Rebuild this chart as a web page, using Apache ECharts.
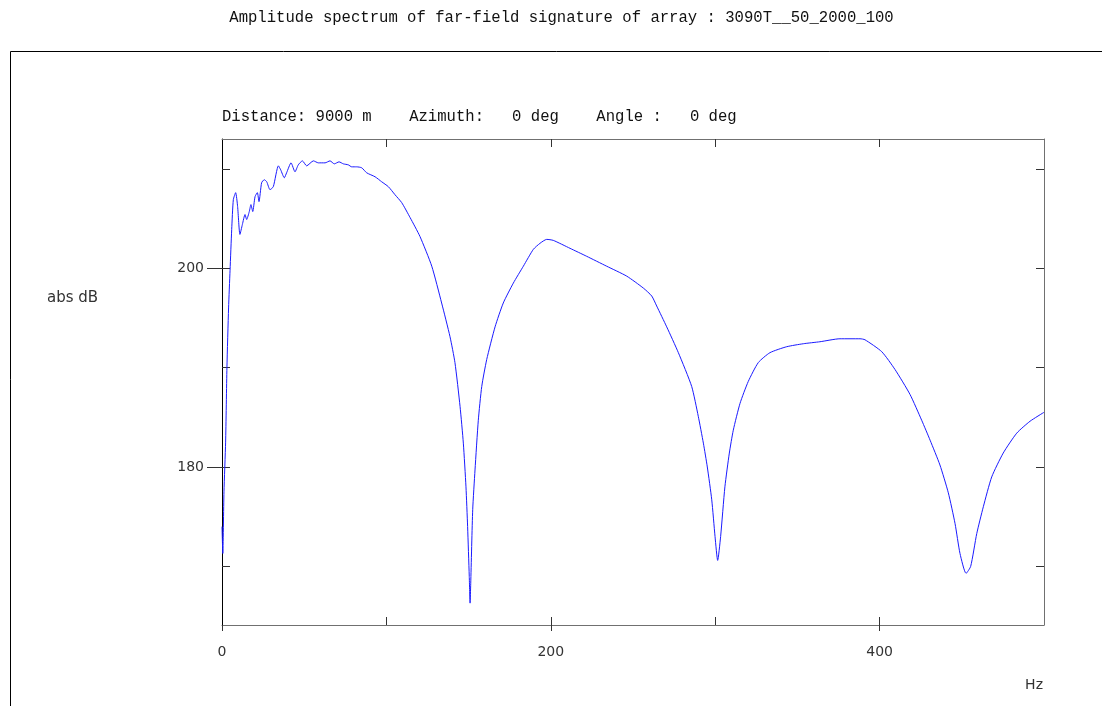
<!DOCTYPE html>
<html>
<head>
<meta charset="utf-8">
<script src="https://cdn.jsdelivr.net/npm/echarts@6/dist/echarts.min.js"></script>
<style>
  html, body { margin: 0; padding: 0; background: #ffffff; }
  #chart { width: 1102px; height: 706px; }
</style>
</head>
<body>
<div id="chart"></div>
<script>
// Far-field amplitude spectrum samples: frequency (Hz) and level (abs dB)
const freqHz = [
  0.0, 0.5, 1.2, 2.2, 3.0, 4.0, 4.9, 5.9, 6.9, 8.3, 9.5, 10.9, 12.4, 14.0, 15.0,
  16.6, 17.6, 18.7, 20.1, 21.5, 22.5, 24.1, 25.7, 27.2, 29.2, 31.2, 34.3, 35.7,
  37.9, 39.3, 42.0, 44.4, 46.4, 48.9, 51.5, 55.6, 58.6, 62.7, 65.7, 68.3, 71.2,
  73.8, 76.8, 78.9, 81.9, 85.0, 88.0, 93.1, 97.1, 101.2, 105.2, 109.3, 114.4,
  120.4, 127.6, 133.6, 138.7, 141.7, 144.8, 146.8, 148.4, 149.4, 150.4, 150.9,
  151.3, 152.5, 153.9, 155.9, 158.0, 161.0, 166.1, 171.1, 177.2, 183.3, 189.4,
  193.4, 197.5, 201.5, 211.7, 221.8, 234.0, 246.2, 256.3, 261.4, 264.4, 270.5,
  277.6, 285.7, 289.7, 292.8, 295.2, 297.9, 299.9, 301.5, 303.3, 305.9, 308.6,
  311.0, 315.1, 320.1, 326.2, 333.3, 343.5, 353.6, 363.7, 375.9, 388.1, 391.1,
  401.3, 409.4, 418.5, 425.6, 430.7, 436.7, 441.8, 445.9, 448.9, 452.6, 455.4,
  459.1, 463.1, 468.2, 475.2, 483.4, 491.5, 500.0
];
const ampDb = [
  174.0, 171.3, 177.5, 182.5, 190.0, 196.0, 199.8, 203.9, 206.9, 207.6, 206.2, 203.4, 204.4, 205.4, 204.9,
  205.7, 206.4, 205.7, 207.2, 207.6, 206.7, 208.6, 208.9, 208.7, 207.9, 208.2, 210.3, 209.9,
  209.1, 209.6, 210.6, 209.7, 210.4, 210.8, 210.3, 210.8, 210.6, 210.6, 210.8, 210.5, 210.7,
  210.5, 210.4, 210.2, 210.2, 210.1, 209.6, 209.2, 208.7, 208.2, 207.4, 206.6, 205.1,
  203.2, 200.2, 196.5, 193.1, 190.5, 186.1, 182.4, 178.0, 174.0, 169.0, 166.3,
  168.3, 175.7, 179.7, 184.7, 188.1, 190.8, 194.1, 196.5, 198.5, 200.2, 201.9,
  202.5, 202.9, 202.8, 202.0, 201.2, 200.2, 199.2, 198.0, 197.2, 196.2, 194.1,
  191.5, 188.1, 185.1, 182.4, 180.0, 176.7, 173.0, 170.6, 173.0, 178.0, 181.4,
  183.7, 186.4, 188.6, 190.5, 191.5, 192.1, 192.4, 192.6, 192.9, 192.9, 192.8,
  191.6, 189.8, 187.3, 184.7, 182.7, 180.2, 177.4, 174.3, 171.3, 169.3, 170.0,
  173.3, 176.0, 179.0, 181.4, 183.4, 184.6, 185.5
];

// Axis ranges and tick values
const xRange = [0, 500];
const yRange = [164.1, 213.0];
const xTicks = [100, 200, 300, 400];
const xLabels = [0, 200, 400];
const yTicks = [170, 180, 190, 200, 210];
const yLabels = [180, 200];

const titleText = 'Amplitude spectrum of far-field signature of array : 3090T__50_2000_100';
const subtitleText = 'Distance: 9000 m    Azimuth:   0 deg    Angle :   0 deg';
const yName = 'abs dB';
const xName = 'Hz';

const monoFont = '15.6px "Liberation Mono", "DejaVu Sans Mono", monospace';
const labelFamily = '"DejaVu Sans", "Liberation Sans", sans-serif';
const tickColor = '#333333';
const frameGray = '#707070';

const hidden = { show: false };

function xAxisDef(position, opts) {
  return Object.assign({
    type: 'value', position: position, min: xRange[0], max: xRange[1],
    splitLine: hidden, axisLabel: hidden, axisLine: hidden, axisTick: hidden
  }, opts);
}
function yAxisDef(position, opts) {
  return Object.assign({
    type: 'value', position: position, min: yRange[0], max: yRange[1],
    splitLine: hidden, axisLabel: hidden, axisLine: hidden, axisTick: hidden
  }, opts);
}

const chart = echarts.init(document.getElementById('chart'), null, { renderer: 'canvas' });

chart.setOption({
  animation: false,
  backgroundColor: '#ffffff',
  grid: { left: 222, top: 139, right: 58, bottom: 81, containLabel: false },
  xAxis: [
    // bottom axis: line, inner ticks, labels
    xAxisDef('bottom', {
      axisLine: { show: true, onZero: false, lineStyle: { color: frameGray, width: 1 } },
      axisTick: { show: true, inside: true, length: 8, customValues: xTicks, lineStyle: { color: tickColor } },
      axisLabel: {
        show: true, customValues: xLabels, margin: 20,
        color: tickColor, fontFamily: labelFamily, fontSize: 14
      }
    }),
    // bottom axis: outer ticks at labelled values
    xAxisDef('bottom', {
      axisTick: { show: true, inside: false, length: 6, customValues: xLabels, lineStyle: { color: tickColor } }
    }),
    // top frame edge with inner ticks
    xAxisDef('top', {
      axisLine: { show: true, onZero: false, lineStyle: { color: frameGray, width: 1 } },
      axisTick: { show: true, inside: true, length: 8, customValues: xTicks, lineStyle: { color: tickColor } }
    })
  ],
  yAxis: [
    // left axis: black line, inner ticks, labels
    yAxisDef('left', {
      axisLine: { show: true, onZero: false, lineStyle: { color: '#000000', width: 1 } },
      axisTick: { show: true, inside: true, length: 8, customValues: yTicks, lineStyle: { color: tickColor } },
      axisLabel: {
        show: true, customValues: yLabels, margin: 18,
        color: tickColor, fontFamily: labelFamily, fontSize: 14
      }
    }),
    // left axis: outer ticks at labelled values
    yAxisDef('left', {
      axisTick: { show: true, inside: false, length: 7, customValues: yLabels, lineStyle: { color: tickColor } }
    }),
    // right frame edge with inner ticks
    yAxisDef('right', {
      axisLine: { show: true, onZero: false, lineStyle: { color: frameGray, width: 1 } },
      axisTick: { show: true, inside: true, length: 8, customValues: yTicks, lineStyle: { color: tickColor } }
    }),
    // right frame edge: longer ticks at labelled values
    yAxisDef('right', {
      axisTick: { show: true, inside: true, length: 15, customValues: yLabels, lineStyle: { color: tickColor } }
    })
  ],
  series: [{
    type: 'line',
    xAxisIndex: 0,
    yAxisIndex: 0,
    data: freqHz.map((f, i) => [f, ampDb[i]]),
    showSymbol: false,
    symbol: 'none',
    smooth: 0.2,
    clip: true,
    lineStyle: { color: '#1a1aff', width: 1 }
  }],
  graphic: [
    {
      type: 'rect', silent: true,
      shape: { x: 10.5, y: 51.5, width: 1200, height: 800 },
      style: { fill: 'none', stroke: '#000000', lineWidth: 1 }
    },
    {
      type: 'text', silent: true, x: 561.5, y: 18,
      style: { text: titleText, font: monoFont, fill: '#111111', align: 'center', verticalAlign: 'middle' }
    },
    {
      type: 'text', silent: true, x: 222, y: 117,
      style: { text: subtitleText, font: monoFont, fill: '#111111', align: 'left', verticalAlign: 'middle' }
    },
    {
      type: 'text', silent: true, x: 47, y: 298,
      style: { text: yName, font: '15px ' + labelFamily, fill: tickColor, align: 'left', verticalAlign: 'middle' }
    },
    {
      type: 'text', silent: true, x: 1043, y: 685,
      style: { text: xName, font: '14px ' + labelFamily, fill: tickColor, align: 'right', verticalAlign: 'middle' }
    }
  ]
});
</script>
</body>
</html>
